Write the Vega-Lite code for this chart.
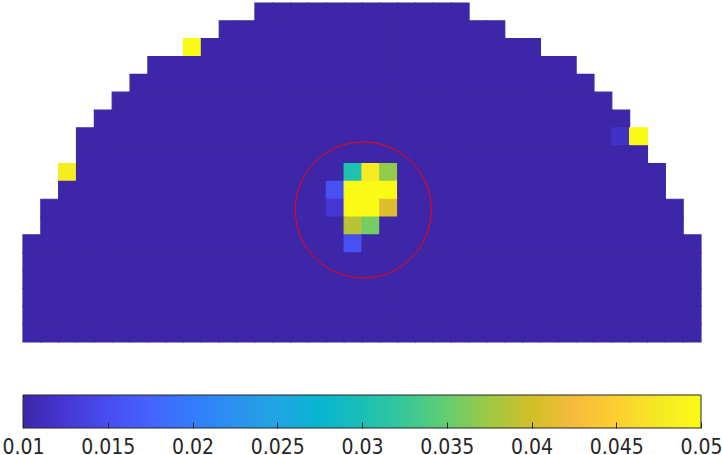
{
  "$schema": "https://vega.github.io/schema/vega-lite/v6.json",
  "padding": {"left": 1, "top": 2, "right": 0, "bottom": 0},
  "background": "white",
  "spacing": 51,
  "config": {"view": {"stroke": null}},
  "vconcat": [
    {
      "width": 678,
      "height": 339,
      "layer": [
        {
          "data": {"values": [
{"r":0,"c":13,"v":0.01},{"r":0,"c":14,"v":0.01},{"r":0,"c":15,"v":0.01},{"r":0,"c":16,"v":0.01},{"r":0,"c":17,"v":0.01},{"r":0,"c":18,"v":0.01},{"r":0,"c":19,"v":0.01},{"r":0,"c":20,"v":0.01},{"r":0,"c":21,"v":0.01},{"r":0,"c":22,"v":0.01},{"r":0,"c":23,"v":0.01},{"r":0,"c":24,"v":0.01},
{"r":1,"c":11,"v":0.01},{"r":1,"c":12,"v":0.01},{"r":1,"c":13,"v":0.01},{"r":1,"c":14,"v":0.01},{"r":1,"c":15,"v":0.01},{"r":1,"c":16,"v":0.01},{"r":1,"c":17,"v":0.01},{"r":1,"c":18,"v":0.01},{"r":1,"c":19,"v":0.01},{"r":1,"c":20,"v":0.01},{"r":1,"c":21,"v":0.01},{"r":1,"c":22,"v":0.01},{"r":1,"c":23,"v":0.01},{"r":1,"c":24,"v":0.01},{"r":1,"c":25,"v":0.01},{"r":1,"c":26,"v":0.01},
{"r":2,"c":9,"v":0.05},{"r":2,"c":10,"v":0.01},{"r":2,"c":11,"v":0.01},{"r":2,"c":12,"v":0.01},{"r":2,"c":13,"v":0.01},{"r":2,"c":14,"v":0.01},{"r":2,"c":15,"v":0.01},{"r":2,"c":16,"v":0.01},{"r":2,"c":17,"v":0.01},{"r":2,"c":18,"v":0.01},{"r":2,"c":19,"v":0.01},{"r":2,"c":20,"v":0.01},{"r":2,"c":21,"v":0.01},{"r":2,"c":22,"v":0.01},{"r":2,"c":23,"v":0.01},{"r":2,"c":24,"v":0.01},{"r":2,"c":25,"v":0.01},{"r":2,"c":26,"v":0.01},{"r":2,"c":27,"v":0.01},{"r":2,"c":28,"v":0.01},
{"r":3,"c":7,"v":0.01},{"r":3,"c":8,"v":0.01},{"r":3,"c":9,"v":0.01},{"r":3,"c":10,"v":0.01},{"r":3,"c":11,"v":0.01},{"r":3,"c":12,"v":0.01},{"r":3,"c":13,"v":0.01},{"r":3,"c":14,"v":0.01},{"r":3,"c":15,"v":0.01},{"r":3,"c":16,"v":0.01},{"r":3,"c":17,"v":0.01},{"r":3,"c":18,"v":0.01},{"r":3,"c":19,"v":0.01},{"r":3,"c":20,"v":0.01},{"r":3,"c":21,"v":0.01},{"r":3,"c":22,"v":0.01},{"r":3,"c":23,"v":0.01},{"r":3,"c":24,"v":0.01},{"r":3,"c":25,"v":0.01},{"r":3,"c":26,"v":0.01},{"r":3,"c":27,"v":0.01},{"r":3,"c":28,"v":0.01},{"r":3,"c":29,"v":0.01},{"r":3,"c":30,"v":0.01},
{"r":4,"c":6,"v":0.01},{"r":4,"c":7,"v":0.01},{"r":4,"c":8,"v":0.01},{"r":4,"c":9,"v":0.01},{"r":4,"c":10,"v":0.01},{"r":4,"c":11,"v":0.01},{"r":4,"c":12,"v":0.01},{"r":4,"c":13,"v":0.01},{"r":4,"c":14,"v":0.01},{"r":4,"c":15,"v":0.01},{"r":4,"c":16,"v":0.01},{"r":4,"c":17,"v":0.01},{"r":4,"c":18,"v":0.01},{"r":4,"c":19,"v":0.01},{"r":4,"c":20,"v":0.01},{"r":4,"c":21,"v":0.01},{"r":4,"c":22,"v":0.01},{"r":4,"c":23,"v":0.01},{"r":4,"c":24,"v":0.01},{"r":4,"c":25,"v":0.01},{"r":4,"c":26,"v":0.01},{"r":4,"c":27,"v":0.01},{"r":4,"c":28,"v":0.01},{"r":4,"c":29,"v":0.01},{"r":4,"c":30,"v":0.01},{"r":4,"c":31,"v":0.01},
{"r":5,"c":5,"v":0.01},{"r":5,"c":6,"v":0.01},{"r":5,"c":7,"v":0.01},{"r":5,"c":8,"v":0.01},{"r":5,"c":9,"v":0.01},{"r":5,"c":10,"v":0.01},{"r":5,"c":11,"v":0.01},{"r":5,"c":12,"v":0.01},{"r":5,"c":13,"v":0.01},{"r":5,"c":14,"v":0.01},{"r":5,"c":15,"v":0.01},{"r":5,"c":16,"v":0.01},{"r":5,"c":17,"v":0.01},{"r":5,"c":18,"v":0.01},{"r":5,"c":19,"v":0.01},{"r":5,"c":20,"v":0.01},{"r":5,"c":21,"v":0.01},{"r":5,"c":22,"v":0.01},{"r":5,"c":23,"v":0.01},{"r":5,"c":24,"v":0.01},{"r":5,"c":25,"v":0.01},{"r":5,"c":26,"v":0.01},{"r":5,"c":27,"v":0.01},{"r":5,"c":28,"v":0.01},{"r":5,"c":29,"v":0.01},{"r":5,"c":30,"v":0.01},{"r":5,"c":31,"v":0.01},{"r":5,"c":32,"v":0.01},
{"r":6,"c":4,"v":0.01},{"r":6,"c":5,"v":0.01},{"r":6,"c":6,"v":0.01},{"r":6,"c":7,"v":0.01},{"r":6,"c":8,"v":0.01},{"r":6,"c":9,"v":0.01},{"r":6,"c":10,"v":0.01},{"r":6,"c":11,"v":0.01},{"r":6,"c":12,"v":0.01},{"r":6,"c":13,"v":0.01},{"r":6,"c":14,"v":0.01},{"r":6,"c":15,"v":0.01},{"r":6,"c":16,"v":0.01},{"r":6,"c":17,"v":0.01},{"r":6,"c":18,"v":0.01},{"r":6,"c":19,"v":0.01},{"r":6,"c":20,"v":0.01},{"r":6,"c":21,"v":0.01},{"r":6,"c":22,"v":0.01},{"r":6,"c":23,"v":0.01},{"r":6,"c":24,"v":0.01},{"r":6,"c":25,"v":0.01},{"r":6,"c":26,"v":0.01},{"r":6,"c":27,"v":0.01},{"r":6,"c":28,"v":0.01},{"r":6,"c":29,"v":0.01},{"r":6,"c":30,"v":0.01},{"r":6,"c":31,"v":0.01},{"r":6,"c":32,"v":0.01},{"r":6,"c":33,"v":0.01},
{"r":7,"c":3,"v":0.01},{"r":7,"c":4,"v":0.01},{"r":7,"c":5,"v":0.01},{"r":7,"c":6,"v":0.01},{"r":7,"c":7,"v":0.01},{"r":7,"c":8,"v":0.01},{"r":7,"c":9,"v":0.01},{"r":7,"c":10,"v":0.01},{"r":7,"c":11,"v":0.01},{"r":7,"c":12,"v":0.01},{"r":7,"c":13,"v":0.01},{"r":7,"c":14,"v":0.01},{"r":7,"c":15,"v":0.01},{"r":7,"c":16,"v":0.01},{"r":7,"c":17,"v":0.01},{"r":7,"c":18,"v":0.01},{"r":7,"c":19,"v":0.01},{"r":7,"c":20,"v":0.01},{"r":7,"c":21,"v":0.01},{"r":7,"c":22,"v":0.01},{"r":7,"c":23,"v":0.01},{"r":7,"c":24,"v":0.01},{"r":7,"c":25,"v":0.01},{"r":7,"c":26,"v":0.01},{"r":7,"c":27,"v":0.01},{"r":7,"c":28,"v":0.01},{"r":7,"c":29,"v":0.01},{"r":7,"c":30,"v":0.01},{"r":7,"c":31,"v":0.01},{"r":7,"c":32,"v":0.01},{"r":7,"c":33,"v":0.0116},{"r":7,"c":34,"v":0.05},
{"r":8,"c":3,"v":0.01},{"r":8,"c":4,"v":0.01},{"r":8,"c":5,"v":0.01},{"r":8,"c":6,"v":0.01},{"r":8,"c":7,"v":0.01},{"r":8,"c":8,"v":0.01},{"r":8,"c":9,"v":0.01},{"r":8,"c":10,"v":0.01},{"r":8,"c":11,"v":0.01},{"r":8,"c":12,"v":0.01},{"r":8,"c":13,"v":0.01},{"r":8,"c":14,"v":0.01},{"r":8,"c":15,"v":0.01},{"r":8,"c":16,"v":0.01},{"r":8,"c":17,"v":0.01},{"r":8,"c":18,"v":0.01},{"r":8,"c":19,"v":0.01},{"r":8,"c":20,"v":0.01},{"r":8,"c":21,"v":0.01},{"r":8,"c":22,"v":0.01},{"r":8,"c":23,"v":0.01},{"r":8,"c":24,"v":0.01},{"r":8,"c":25,"v":0.01},{"r":8,"c":26,"v":0.01},{"r":8,"c":27,"v":0.01},{"r":8,"c":28,"v":0.01},{"r":8,"c":29,"v":0.01},{"r":8,"c":30,"v":0.01},{"r":8,"c":31,"v":0.01},{"r":8,"c":32,"v":0.01},{"r":8,"c":33,"v":0.01},{"r":8,"c":34,"v":0.01},
{"r":9,"c":2,"v":0.048},{"r":9,"c":3,"v":0.01},{"r":9,"c":4,"v":0.01},{"r":9,"c":5,"v":0.01},{"r":9,"c":6,"v":0.01},{"r":9,"c":7,"v":0.01},{"r":9,"c":8,"v":0.01},{"r":9,"c":9,"v":0.01},{"r":9,"c":10,"v":0.01},{"r":9,"c":11,"v":0.01},{"r":9,"c":12,"v":0.01},{"r":9,"c":13,"v":0.01},{"r":9,"c":14,"v":0.01},{"r":9,"c":15,"v":0.01},{"r":9,"c":16,"v":0.01},{"r":9,"c":17,"v":0.01},{"r":9,"c":18,"v":0.0305},{"r":9,"c":19,"v":0.0478},{"r":9,"c":20,"v":0.037},{"r":9,"c":21,"v":0.01},{"r":9,"c":22,"v":0.01},{"r":9,"c":23,"v":0.01},{"r":9,"c":24,"v":0.01},{"r":9,"c":25,"v":0.01},{"r":9,"c":26,"v":0.01},{"r":9,"c":27,"v":0.01},{"r":9,"c":28,"v":0.01},{"r":9,"c":29,"v":0.01},{"r":9,"c":30,"v":0.01},{"r":9,"c":31,"v":0.01},{"r":9,"c":32,"v":0.01},{"r":9,"c":33,"v":0.01},{"r":9,"c":34,"v":0.01},{"r":9,"c":35,"v":0.01},
{"r":10,"c":2,"v":0.01},{"r":10,"c":3,"v":0.01},{"r":10,"c":4,"v":0.01},{"r":10,"c":5,"v":0.01},{"r":10,"c":6,"v":0.01},{"r":10,"c":7,"v":0.01},{"r":10,"c":8,"v":0.01},{"r":10,"c":9,"v":0.01},{"r":10,"c":10,"v":0.01},{"r":10,"c":11,"v":0.01},{"r":10,"c":12,"v":0.01},{"r":10,"c":13,"v":0.01},{"r":10,"c":14,"v":0.01},{"r":10,"c":15,"v":0.01},{"r":10,"c":16,"v":0.01},{"r":10,"c":17,"v":0.0155},{"r":10,"c":18,"v":0.05},{"r":10,"c":19,"v":0.05},{"r":10,"c":20,"v":0.05},{"r":10,"c":21,"v":0.01},{"r":10,"c":22,"v":0.01},{"r":10,"c":23,"v":0.01},{"r":10,"c":24,"v":0.01},{"r":10,"c":25,"v":0.01},{"r":10,"c":26,"v":0.01},{"r":10,"c":27,"v":0.01},{"r":10,"c":28,"v":0.01},{"r":10,"c":29,"v":0.01},{"r":10,"c":30,"v":0.01},{"r":10,"c":31,"v":0.01},{"r":10,"c":32,"v":0.01},{"r":10,"c":33,"v":0.01},{"r":10,"c":34,"v":0.01},{"r":10,"c":35,"v":0.01},
{"r":11,"c":1,"v":0.01},{"r":11,"c":2,"v":0.01},{"r":11,"c":3,"v":0.01},{"r":11,"c":4,"v":0.01},{"r":11,"c":5,"v":0.01},{"r":11,"c":6,"v":0.01},{"r":11,"c":7,"v":0.01},{"r":11,"c":8,"v":0.01},{"r":11,"c":9,"v":0.01},{"r":11,"c":10,"v":0.01},{"r":11,"c":11,"v":0.01},{"r":11,"c":12,"v":0.01},{"r":11,"c":13,"v":0.01},{"r":11,"c":14,"v":0.01},{"r":11,"c":15,"v":0.01},{"r":11,"c":16,"v":0.01},{"r":11,"c":17,"v":0.0125},{"r":11,"c":18,"v":0.05},{"r":11,"c":19,"v":0.05},{"r":11,"c":20,"v":0.0408},{"r":11,"c":21,"v":0.01},{"r":11,"c":22,"v":0.01},{"r":11,"c":23,"v":0.01},{"r":11,"c":24,"v":0.01},{"r":11,"c":25,"v":0.01},{"r":11,"c":26,"v":0.01},{"r":11,"c":27,"v":0.01},{"r":11,"c":28,"v":0.01},{"r":11,"c":29,"v":0.01},{"r":11,"c":30,"v":0.01},{"r":11,"c":31,"v":0.01},{"r":11,"c":32,"v":0.01},{"r":11,"c":33,"v":0.01},{"r":11,"c":34,"v":0.01},{"r":11,"c":35,"v":0.01},{"r":11,"c":36,"v":0.01},
{"r":12,"c":1,"v":0.01},{"r":12,"c":2,"v":0.01},{"r":12,"c":3,"v":0.01},{"r":12,"c":4,"v":0.01},{"r":12,"c":5,"v":0.01},{"r":12,"c":6,"v":0.01},{"r":12,"c":7,"v":0.01},{"r":12,"c":8,"v":0.01},{"r":12,"c":9,"v":0.01},{"r":12,"c":10,"v":0.01},{"r":12,"c":11,"v":0.01},{"r":12,"c":12,"v":0.01},{"r":12,"c":13,"v":0.01},{"r":12,"c":14,"v":0.01},{"r":12,"c":15,"v":0.01},{"r":12,"c":16,"v":0.01},{"r":12,"c":17,"v":0.01},{"r":12,"c":18,"v":0.0389},{"r":12,"c":19,"v":0.0357},{"r":12,"c":20,"v":0.01},{"r":12,"c":21,"v":0.01},{"r":12,"c":22,"v":0.01},{"r":12,"c":23,"v":0.01},{"r":12,"c":24,"v":0.01},{"r":12,"c":25,"v":0.01},{"r":12,"c":26,"v":0.01},{"r":12,"c":27,"v":0.01},{"r":12,"c":28,"v":0.01},{"r":12,"c":29,"v":0.01},{"r":12,"c":30,"v":0.01},{"r":12,"c":31,"v":0.01},{"r":12,"c":32,"v":0.01},{"r":12,"c":33,"v":0.01},{"r":12,"c":34,"v":0.01},{"r":12,"c":35,"v":0.01},{"r":12,"c":36,"v":0.01},
{"r":13,"c":0,"v":0.01},{"r":13,"c":1,"v":0.01},{"r":13,"c":2,"v":0.01},{"r":13,"c":3,"v":0.01},{"r":13,"c":4,"v":0.01},{"r":13,"c":5,"v":0.01},{"r":13,"c":6,"v":0.01},{"r":13,"c":7,"v":0.01},{"r":13,"c":8,"v":0.01},{"r":13,"c":9,"v":0.01},{"r":13,"c":10,"v":0.01},{"r":13,"c":11,"v":0.01},{"r":13,"c":12,"v":0.01},{"r":13,"c":13,"v":0.01},{"r":13,"c":14,"v":0.01},{"r":13,"c":15,"v":0.01},{"r":13,"c":16,"v":0.01},{"r":13,"c":17,"v":0.01},{"r":13,"c":18,"v":0.0155},{"r":13,"c":19,"v":0.01},{"r":13,"c":20,"v":0.01},{"r":13,"c":21,"v":0.01},{"r":13,"c":22,"v":0.01},{"r":13,"c":23,"v":0.01},{"r":13,"c":24,"v":0.01},{"r":13,"c":25,"v":0.01},{"r":13,"c":26,"v":0.01},{"r":13,"c":27,"v":0.01},{"r":13,"c":28,"v":0.01},{"r":13,"c":29,"v":0.01},{"r":13,"c":30,"v":0.01},{"r":13,"c":31,"v":0.01},{"r":13,"c":32,"v":0.01},{"r":13,"c":33,"v":0.01},{"r":13,"c":34,"v":0.01},{"r":13,"c":35,"v":0.01},{"r":13,"c":36,"v":0.01},{"r":13,"c":37,"v":0.01},
{"r":14,"c":0,"v":0.01},{"r":14,"c":1,"v":0.01},{"r":14,"c":2,"v":0.01},{"r":14,"c":3,"v":0.01},{"r":14,"c":4,"v":0.01},{"r":14,"c":5,"v":0.01},{"r":14,"c":6,"v":0.01},{"r":14,"c":7,"v":0.01},{"r":14,"c":8,"v":0.01},{"r":14,"c":9,"v":0.01},{"r":14,"c":10,"v":0.01},{"r":14,"c":11,"v":0.01},{"r":14,"c":12,"v":0.01},{"r":14,"c":13,"v":0.01},{"r":14,"c":14,"v":0.01},{"r":14,"c":15,"v":0.01},{"r":14,"c":16,"v":0.01},{"r":14,"c":17,"v":0.01},{"r":14,"c":18,"v":0.01},{"r":14,"c":19,"v":0.01},{"r":14,"c":20,"v":0.01},{"r":14,"c":21,"v":0.01},{"r":14,"c":22,"v":0.01},{"r":14,"c":23,"v":0.01},{"r":14,"c":24,"v":0.01},{"r":14,"c":25,"v":0.01},{"r":14,"c":26,"v":0.01},{"r":14,"c":27,"v":0.01},{"r":14,"c":28,"v":0.01},{"r":14,"c":29,"v":0.01},{"r":14,"c":30,"v":0.01},{"r":14,"c":31,"v":0.01},{"r":14,"c":32,"v":0.01},{"r":14,"c":33,"v":0.01},{"r":14,"c":34,"v":0.01},{"r":14,"c":35,"v":0.01},{"r":14,"c":36,"v":0.01},{"r":14,"c":37,"v":0.01},
{"r":15,"c":0,"v":0.01},{"r":15,"c":1,"v":0.01},{"r":15,"c":2,"v":0.01},{"r":15,"c":3,"v":0.01},{"r":15,"c":4,"v":0.01},{"r":15,"c":5,"v":0.01},{"r":15,"c":6,"v":0.01},{"r":15,"c":7,"v":0.01},{"r":15,"c":8,"v":0.01},{"r":15,"c":9,"v":0.01},{"r":15,"c":10,"v":0.01},{"r":15,"c":11,"v":0.01},{"r":15,"c":12,"v":0.01},{"r":15,"c":13,"v":0.01},{"r":15,"c":14,"v":0.01},{"r":15,"c":15,"v":0.01},{"r":15,"c":16,"v":0.01},{"r":15,"c":17,"v":0.01},{"r":15,"c":18,"v":0.01},{"r":15,"c":19,"v":0.01},{"r":15,"c":20,"v":0.01},{"r":15,"c":21,"v":0.01},{"r":15,"c":22,"v":0.01},{"r":15,"c":23,"v":0.01},{"r":15,"c":24,"v":0.01},{"r":15,"c":25,"v":0.01},{"r":15,"c":26,"v":0.01},{"r":15,"c":27,"v":0.01},{"r":15,"c":28,"v":0.01},{"r":15,"c":29,"v":0.01},{"r":15,"c":30,"v":0.01},{"r":15,"c":31,"v":0.01},{"r":15,"c":32,"v":0.01},{"r":15,"c":33,"v":0.01},{"r":15,"c":34,"v":0.01},{"r":15,"c":35,"v":0.01},{"r":15,"c":36,"v":0.01},{"r":15,"c":37,"v":0.01},
{"r":16,"c":0,"v":0.01},{"r":16,"c":1,"v":0.01},{"r":16,"c":2,"v":0.01},{"r":16,"c":3,"v":0.01},{"r":16,"c":4,"v":0.01},{"r":16,"c":5,"v":0.01},{"r":16,"c":6,"v":0.01},{"r":16,"c":7,"v":0.01},{"r":16,"c":8,"v":0.01},{"r":16,"c":9,"v":0.01},{"r":16,"c":10,"v":0.01},{"r":16,"c":11,"v":0.01},{"r":16,"c":12,"v":0.01},{"r":16,"c":13,"v":0.01},{"r":16,"c":14,"v":0.01},{"r":16,"c":15,"v":0.01},{"r":16,"c":16,"v":0.01},{"r":16,"c":17,"v":0.01},{"r":16,"c":18,"v":0.01},{"r":16,"c":19,"v":0.01},{"r":16,"c":20,"v":0.01},{"r":16,"c":21,"v":0.01},{"r":16,"c":22,"v":0.01},{"r":16,"c":23,"v":0.01},{"r":16,"c":24,"v":0.01},{"r":16,"c":25,"v":0.01},{"r":16,"c":26,"v":0.01},{"r":16,"c":27,"v":0.01},{"r":16,"c":28,"v":0.01},{"r":16,"c":29,"v":0.01},{"r":16,"c":30,"v":0.01},{"r":16,"c":31,"v":0.01},{"r":16,"c":32,"v":0.01},{"r":16,"c":33,"v":0.01},{"r":16,"c":34,"v":0.01},{"r":16,"c":35,"v":0.01},{"r":16,"c":36,"v":0.01},{"r":16,"c":37,"v":0.01},
{"r":17,"c":0,"v":0.01},{"r":17,"c":1,"v":0.01},{"r":17,"c":2,"v":0.01},{"r":17,"c":3,"v":0.01},{"r":17,"c":4,"v":0.01},{"r":17,"c":5,"v":0.01},{"r":17,"c":6,"v":0.01},{"r":17,"c":7,"v":0.01},{"r":17,"c":8,"v":0.01},{"r":17,"c":9,"v":0.01},{"r":17,"c":10,"v":0.01},{"r":17,"c":11,"v":0.01},{"r":17,"c":12,"v":0.01},{"r":17,"c":13,"v":0.01},{"r":17,"c":14,"v":0.01},{"r":17,"c":15,"v":0.01},{"r":17,"c":16,"v":0.01},{"r":17,"c":17,"v":0.01},{"r":17,"c":18,"v":0.01},{"r":17,"c":19,"v":0.01},{"r":17,"c":20,"v":0.01},{"r":17,"c":21,"v":0.01},{"r":17,"c":22,"v":0.01},{"r":17,"c":23,"v":0.01},{"r":17,"c":24,"v":0.01},{"r":17,"c":25,"v":0.01},{"r":17,"c":26,"v":0.01},{"r":17,"c":27,"v":0.01},{"r":17,"c":28,"v":0.01},{"r":17,"c":29,"v":0.01},{"r":17,"c":30,"v":0.01},{"r":17,"c":31,"v":0.01},{"r":17,"c":32,"v":0.01},{"r":17,"c":33,"v":0.01},{"r":17,"c":34,"v":0.01},{"r":17,"c":35,"v":0.01},{"r":17,"c":36,"v":0.01},{"r":17,"c":37,"v":0.01},
{"r":18,"c":0,"v":0.01},{"r":18,"c":1,"v":0.01},{"r":18,"c":2,"v":0.01},{"r":18,"c":3,"v":0.01},{"r":18,"c":4,"v":0.01},{"r":18,"c":5,"v":0.01},{"r":18,"c":6,"v":0.01},{"r":18,"c":7,"v":0.01},{"r":18,"c":8,"v":0.01},{"r":18,"c":9,"v":0.01},{"r":18,"c":10,"v":0.01},{"r":18,"c":11,"v":0.01},{"r":18,"c":12,"v":0.01},{"r":18,"c":13,"v":0.01},{"r":18,"c":14,"v":0.01},{"r":18,"c":15,"v":0.01},{"r":18,"c":16,"v":0.01},{"r":18,"c":17,"v":0.01},{"r":18,"c":18,"v":0.01},{"r":18,"c":19,"v":0.01},{"r":18,"c":20,"v":0.01},{"r":18,"c":21,"v":0.01},{"r":18,"c":22,"v":0.01},{"r":18,"c":23,"v":0.01},{"r":18,"c":24,"v":0.01},{"r":18,"c":25,"v":0.01},{"r":18,"c":26,"v":0.01},{"r":18,"c":27,"v":0.01},{"r":18,"c":28,"v":0.01},{"r":18,"c":29,"v":0.01},{"r":18,"c":30,"v":0.01},{"r":18,"c":31,"v":0.01},{"r":18,"c":32,"v":0.01},{"r":18,"c":33,"v":0.01},{"r":18,"c":34,"v":0.01},{"r":18,"c":35,"v":0.01},{"r":18,"c":36,"v":0.01},{"r":18,"c":37,"v":0.01}
          ]},
          "mark": {"type": "rect", "strokeWidth": 1.2},
          "encoding": {
            "x": {"field": "c", "type": "ordinal", "scale": {"paddingInner": 0, "paddingOuter": 0}, "axis": null},
            "y": {"field": "r", "type": "ordinal", "scale": {"paddingInner": 0, "paddingOuter": 0}, "axis": null},
            "color": {
              "field": "v", "type": "quantitative", "legend": null,
              "scale": {
                "domain": [0.01, 0.05], "clamp": true, "interpolate": "rgb",
                "range": ["#3E26A8", "#4537D5", "#484DF0", "#4563FD", "#327CFC", "#2B91EF", "#20A5E3", "#08B5D0", "#19BFB6", "#37C897", "#64CD6F", "#9DC943", "#D1BF27", "#F8BA3D", "#FCCF30", "#F5E924", "#F9FB15"]
              }
            },
            "stroke": {
              "field": "v", "type": "quantitative", "legend": null,
              "scale": {
                "domain": [0.01, 0.05], "clamp": true, "interpolate": "rgb",
                "range": ["#3E26A8", "#4537D5", "#484DF0", "#4563FD", "#327CFC", "#2B91EF", "#20A5E3", "#08B5D0", "#19BFB6", "#37C897", "#64CD6F", "#9DC943", "#D1BF27", "#F8BA3D", "#FCCF30", "#F5E924", "#F9FB15"]
              }
            }
          }
        },
        {
          "data": {"values": [{"cx": 19.07, "cy": 11.6}]},
          "mark": {"type": "point", "shape": "circle", "filled": false, "stroke": "#FF0000", "strokeWidth": 1, "opacity": 1, "size": 18496},
          "encoding": {
            "x": {"field": "cx", "type": "quantitative", "scale": {"domain": [0, 38], "nice": false, "zero": false}, "axis": null},
            "y": {"field": "cy", "type": "quantitative", "scale": {"domain": [0, 19], "nice": false, "zero": false, "reverse": true}, "axis": null}
          }
        }
      ],
      "resolve": {"scale": {"x": "independent", "y": "independent"}}
    },
    {
      "width": 678,
      "height": 33,
      "data": {"values": [{"lo": 0.01, "hi": 0.05}]},
      "mark": {
        "type": "rect",
        "stroke": "#262626",
        "strokeWidth": 1,
        "fill": {
          "gradient": "linear", "x1": 0, "y1": 0, "x2": 1, "y2": 0,
          "stops": [
            {"offset": 0, "color": "#3E26A8"},
            {"offset": 0.0625, "color": "#4537D5"},
            {"offset": 0.125, "color": "#484DF0"},
            {"offset": 0.1875, "color": "#4563FD"},
            {"offset": 0.25, "color": "#327CFC"},
            {"offset": 0.3125, "color": "#2B91EF"},
            {"offset": 0.375, "color": "#20A5E3"},
            {"offset": 0.4375, "color": "#08B5D0"},
            {"offset": 0.5, "color": "#19BFB6"},
            {"offset": 0.5625, "color": "#37C897"},
            {"offset": 0.625, "color": "#64CD6F"},
            {"offset": 0.6875, "color": "#9DC943"},
            {"offset": 0.75, "color": "#D1BF27"},
            {"offset": 0.8125, "color": "#F8BA3D"},
            {"offset": 0.875, "color": "#FCCF30"},
            {"offset": 0.9375, "color": "#F5E924"},
            {"offset": 1, "color": "#F9FB15"}
          ]
        }
      },
      "encoding": {
        "x": {
          "field": "lo", "type": "quantitative",
          "scale": {"domain": [0.01, 0.05], "nice": false, "zero": false},
          "axis": {
            "orient": "bottom",
            "values": [0.01, 0.015, 0.02, 0.025, 0.03, 0.035, 0.04, 0.045, 0.05],
            "labelExpr": "'' + datum.value",
            "domain": false,
            "grid": false,
            "ticks": true,
            "tickSize": -6,
            "tickColor": "#262626",
            "tickWidth": 1,
            "labelPadding": 14.5,
            "labelFont": "DejaVu Sans Condensed, DejaVu Sans",
            "labelFontSize": 21,
            "labelColor": "#262626",
            "labelOverlap": false,
            "labelFlush": false,
            "title": null,
            "zindex": 1
          }
        },
        "x2": {"field": "hi"}
      }
    }
  ]
}
